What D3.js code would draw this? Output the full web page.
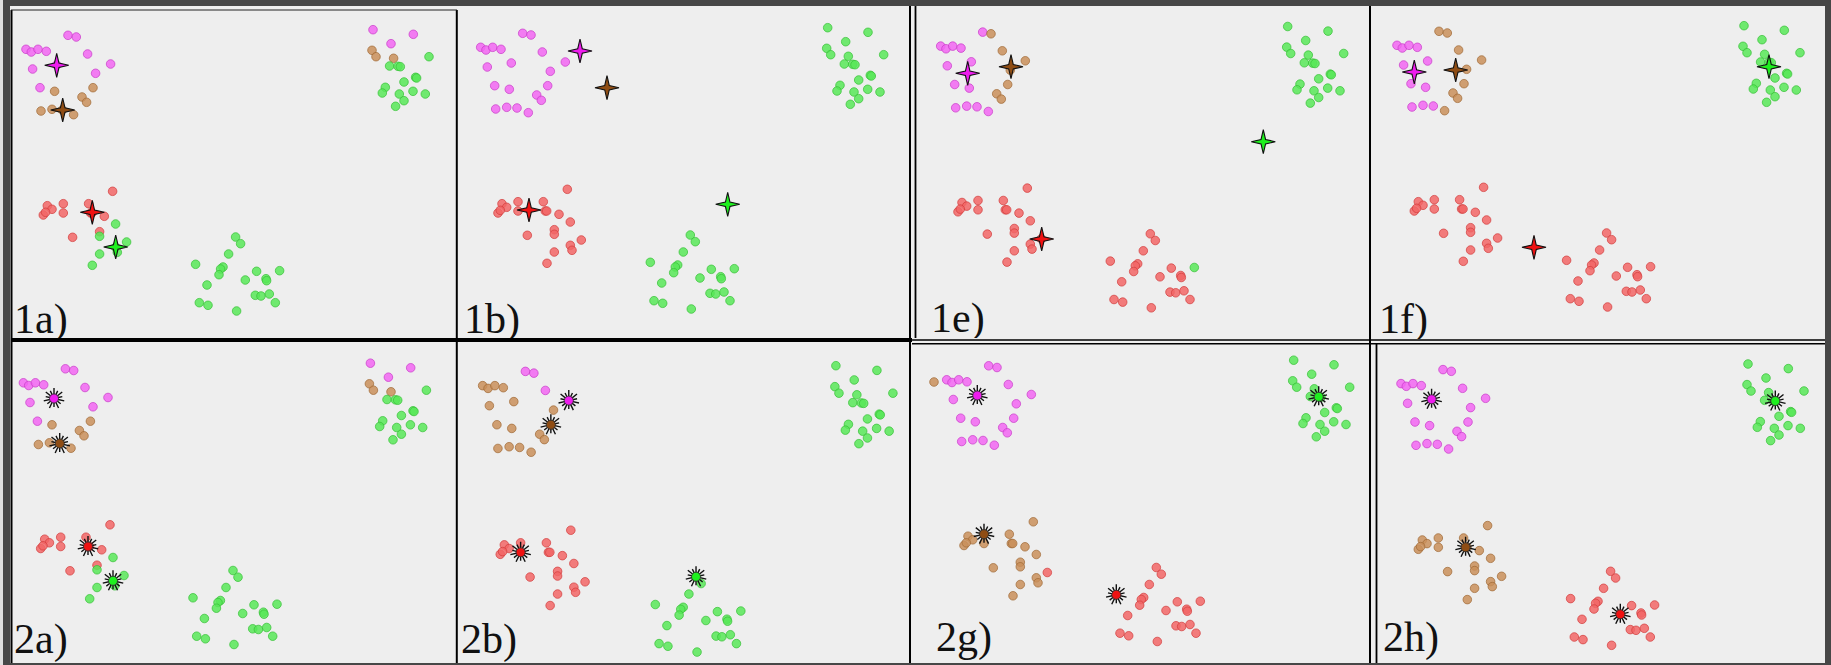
<!DOCTYPE html>
<html>
<head>
<meta charset="utf-8">
<script src="https://cdn.jsdelivr.net/npm/d3@7"></script>
<style>
  html, body { margin: 0; padding: 0; background: #e2e2e2; overflow: hidden; }
  svg { display: block; }
</style>
</head>
<body>
<svg id="chart" width="1831" height="665"></svg>
<script>
// ---- Data: the same 80-point set, four groups, in plot units ----
const clusterTopLeft = [
  [30.7, 47.3], [36.0, 50.0], [42.7, 47.3], [51.0, 49.3], [72.7, 33.3],
  [81.0, 35.0], [92.3, 52.0], [61.3, 63.0], [37.3, 67.0], [115.3, 62.0],
  [100.3, 71.3], [44.7, 85.7], [59.3, 89.3], [97.7, 85.7], [86.7, 95.0],
  [91.3, 100.3], [45.7, 109.0], [56.7, 107.3], [67.0, 108.0], [78.3, 112.7]
];
const clusterTopRight = [
  [377.7, 27.7], [418.0, 32.3], [395.7, 41.7], [376.7, 48.3], [380.7, 54.7],
  [398.3, 56.3], [433.7, 54.7], [394.3, 64.0], [402.7, 64.3], [405.0, 64.7],
  [420.3, 75.3], [421.3, 76.0], [408.7, 80.0], [390.0, 85.3], [387.0, 91.0],
  [404.0, 92.0], [417.7, 89.3], [430.0, 92.0], [408.7, 98.7], [400.3, 104.3]
];
const clusterBottomLeft = [
  [117.3, 189.3], [52.0, 203.7], [56.7, 207.3], [48.0, 213.0], [50.3, 210.3],
  [68.0, 201.7], [68.0, 211.0], [93.3, 201.7], [95.3, 211.0], [96.7, 211.0],
  [109.0, 214.3], [120.3, 222.0], [77.3, 235.3], [104.3, 229.7], [104.3, 234.3],
  [131.3, 240.0], [120.3, 245.3], [122.0, 250.3], [104.3, 252.0], [97.0, 263.3]
];
const clusterBottomCenter = [
  [240.3, 235.0], [245.3, 241.7], [233.3, 252.0], [200.3, 262.3], [227.7, 265.0],
  [225.3, 267.0], [223.7, 272.7], [211.7, 283.0], [250.0, 278.0], [261.3, 269.3],
  [284.3, 268.7], [270.7, 276.7], [271.3, 278.7], [260.0, 293.3], [265.7, 294.0],
  [274.0, 292.0], [280.0, 300.7], [204.0, 300.7], [212.7, 303.3], [241.3, 309.0]
];
const allPoints = [...clusterTopLeft, ...clusterTopRight, ...clusterBottomLeft, ...clusterBottomCenter];

// Panel titles
const panelLabels = ["1a)", "1b)", "1e)", "1f)", "2a)", "2b)", "2g)", "2h)"];

// Cluster membership of each point per panel (m magenta, b brown, g green, r red),
// groups in the order top-left | top-right | bottom-left | bottom-center
const panelAssignments = [
  "mmmmmmmmmmmmbbbbbbbb mmmbbbgggggggggggggg rrrrrrrrrrrgrrgggggg gggggggggggggggggggg",
  "mmmmmmmmmmmmmmmmmmmm gggggggggggggggggggg rrrrrrrrrrrrrrrrrrrr gggggggggggggggggggg",
  "mmmmmbbmmbbmmbbbmmmm gggggggggggggggggggg rrrrrrrrrrrrrrrrrrrr rrrrrrrrrrgrrrrrrrrr",
  "mmmmbbbmmbbmmbbbmmmb gggggggggggggggggggg rrrrrrrrrrrrrrrrrrrr rrrrrrrrrrrrrrrrrrrr",
  "mmmmmmmmmmmmbbbbbbbb mmmbbbgggggggggggggg rrrrrrrrrrrgrrgggggg gggggggggggggggggggg",
  "bbbbmmmbbmbbbbbbbbbb gggggggggggggggggggg rrrrrrrrrrrrrrrrrrrr gggggggggggggggggggg",
  "mmmmmmmmmmmmmmmmmmmm gggggggggggggggggggg bbbbbbbbbbbbbbbrbbbb rrrrrrrrrrrrrrrrrrrr",
  "mmmmmmmmmmmmmmmmmmmm gggggggggggggggggggg bbbbbbbbbbbbbbbbbbbb rrrrrrrrrrrrrrrrrrrr"
];

// One further point present only in panel 2g
const extraPoints2g = [["b", 18.0, 49.5]];

// Cluster centres per panel: [cluster, x, y]
const centres1a = [["m", 61.4, 63.3], ["b", 67.4, 108.0], ["r", 97.0, 210.3], ["g", 120.4, 245.0]];
const centres1b = [["m", 130.0, 51.0], ["b", 157.0, 87.7], ["r", 79.0, 210.0], ["g", 277.7, 204.3]];
const centres1e = [["m", 57.7, 74.5], ["b", 101.0, 67.9], ["r", 131.7, 240.2], ["g", 353.3, 142.9]];
const centres1f = [["m", 48.0, 74.0], ["b", 89.4, 72.0], ["r", 167.7, 249.3], ["g", 402.7, 68.7]];
const centres2a = [["m", 61.3, 63.0], ["b", 67.0, 108.0], ["r", 95.3, 211.0], ["g", 120.3, 245.3]];
const centres2b = [["m", 115.3, 62.0], ["b", 97.7, 85.7], ["r", 68.0, 211.0], ["g", 240.3, 235.0]];
const centres2g = [["m", 61.3, 63.0], ["b", 68.0, 201.7], ["r", 200.3, 262.3], ["g", 402.7, 64.3]];
const centres2h = [["m", 61.3, 63.0], ["b", 95.3, 211.0], ["r", 250.0, 278.0], ["g", 405.0, 64.7]];
const panelCentres = [centres1a, centres1b, centres1e, centres1f, centres2a, centres2b, centres2g, centres2h];

// ---- Layout of the eight screenshots ----
// clip box, where plot origin lands, its scale, label anchor, and centre marker style
const panelLayout = [
  { x0: 12,   y0: 10,  x1: 456,  y1: 338, ox: -4.7,   oy: 2,     s: 1,     lx: 14,   ly: 333, marker: "star" },
  { x0: 458,  y0: 7,   x1: 909,  y1: 338, ox: 450,    oy: 0,     s: 1,     lx: 464,  ly: 333, marker: "star" },
  { x0: 916,  y0: 7,   x1: 1369, y1: 338, ox: 910,    oy: -1.2,  s: 1,     lx: 931,  ly: 332, marker: "star" },
  { x0: 1371, y0: 7,   x1: 1825, y1: 339, ox: 1366.3, oy: -2,    s: 1,     lx: 1379, ly: 333, marker: "star" },
  { x0: 12,   y0: 342, x1: 456,  y1: 663, ox: -7.3,   oy: 335.5, s: 1,     lx: 14,   ly: 653, marker: "burst" },
  { x0: 458,  y0: 342, x1: 910,  y1: 663, ox: 451.4,  oy: 337.5, s: 1.018, lx: 461,  ly: 653, marker: "burst" },
  { x0: 911,  y0: 345, x1: 1369, y1: 663, ox: 916,    oy: 332.5, s: 1,     lx: 936,  ly: 651, marker: "burst" },
  { x0: 1377, y0: 345, x1: 1825, y1: 663, ox: 1370.3, oy: 336.3, s: 1,     lx: 1383, ly: 651, marker: "burst" }
];

const pointFill   = { m: "#f266f2", b: "#c98f5b", g: "#58e858", r: "#f26666" };
const pointStroke = { m: "#c83cc8", b: "#a06a36", g: "#36c036", r: "#d23c3c" };
const centreFill  = { m: "#ee1cee", b: "#8f4d14", g: "#1ef01e", r: "#f01212" };
const labelFont = "'Liberation Serif', Tinos, 'Times New Roman', Times, 'DejaVu Serif', serif";

const svg = d3.select("#chart");
const defs = svg.append("defs");

// light surround and the grey panel faces
svg.append("rect").attr("width", 1831).attr("height", 665).attr("fill", "#e4e4e4");
svg.append("rect").attr("x", 10).attr("y", 6).attr("width", 1815).attr("height", 657).attr("fill", "#eeeeee");

// four-pointed star used for the k-means style centres
const fourStar = (() => {
  const R = 12, r = 3.2;
  const pts = d3.range(8).map(k => [k * Math.PI / 4, k % 2 === 0 ? R : r]);
  return d3.lineRadial().curve(d3.curveLinearClosed)(pts);
})();

// spiky burst used for the medoid centres
const burstPath = (() => {
  const p = d3.path();
  const n = 14;
  for (let k = 0; k < n; k++) {
    const a = k * 2 * Math.PI / n;
    const R = k % 2 === 0 ? 10.5 : 8.5;
    p.moveTo(2 * Math.sin(a), -2 * Math.cos(a));
    p.lineTo(R * Math.sin(a), -R * Math.cos(a));
  }
  return p.toString();
})();

panelLayout.forEach((L, i) => {
  const clipId = "clip" + i;
  defs.append("clipPath").attr("id", clipId)
    .append("rect").attr("x", L.x0).attr("y", L.y0)
    .attr("width", L.x1 - L.x0).attr("height", L.y1 - L.y0);

  const x = d3.scaleLinear().domain([0, 450]).range([L.ox, L.ox + 450 * L.s]);
  const y = d3.scaleLinear().domain([0, 330]).range([L.oy, L.oy + 330 * L.s]);

  const g = svg.append("g").attr("clip-path", `url(#${clipId})`);

  g.append("text")
    .attr("x", L.lx).attr("y", L.ly)
    .style("font-family", labelFont)
    .style("font-size", "42px")
    .style("font-weight", "normal")
    .attr("fill", "#111")
    .text(panelLabels[i]);

  const labels = panelAssignments[i].replace(/\s+/g, "");
  let pts = allPoints.map((p, j) => ({ c: labels[j], x: p[0], y: p[1] }));
  if (i === 6) pts = pts.concat(extraPoints2g.map(e => ({ c: e[0], x: e[1], y: e[2] })));

  g.selectAll("circle.pt").data(pts).join("circle")
    .attr("class", "pt")
    .attr("cx", d => x(d.x)).attr("cy", d => y(d.y))
    .attr("r", 4.3)
    .attr("fill", d => pointFill[d.c]).attr("fill-opacity", 0.85)
    .attr("stroke", d => pointStroke[d.c]).attr("stroke-opacity", 0.8)
    .attr("stroke-width", 0.9);

  const centres = panelCentres[i].map(c => ({ c: c[0], x: c[1], y: c[2] }));
  const cg = g.selectAll("g.centre").data(centres).join("g")
    .attr("class", "centre")
    .attr("transform", d => `translate(${x(d.x)},${y(d.y)})`);

  if (L.marker === "star") {
    cg.append("path").attr("d", fourStar)
      .attr("fill", d => centreFill[d.c])
      .attr("stroke", "#111").attr("stroke-width", 1.1)
      .attr("stroke-linejoin", "miter");
  } else {
    cg.append("path").attr("d", burstPath)
      .attr("fill", "none").attr("stroke", "#111").attr("stroke-width", 1.4);
    cg.append("circle").attr("r", 4.5)
      .attr("fill", d => centreFill[d.c])
      .attr("stroke", "#333").attr("stroke-width", 0.8);
  }
});

// ---- Panel borders and the outer frame ----
const line = (x1, y1, x2, y2, w, c) => svg.append("line")
  .attr("x1", x1).attr("y1", y1).attr("x2", x2).attr("y2", y2)
  .attr("stroke", c || "#000").attr("stroke-width", w);

line(11.5, 10, 11.5, 663, 2);          // left edge of 1a / 2a
line(456.8, 10, 456.8, 663, 2);        // 1a|1b and 2a|2b
line(910, 6, 910, 663, 2);             // 1b|1e and 2b|2g
line(915.5, 6, 915.5, 338, 1.8);       // second rule before 1e
line(1370, 6, 1370, 663, 2);           // 1e|1f and 2g|2h
line(1376.5, 344, 1376.5, 663, 1.8);   // left rule of 2h
line(11, 10, 457, 10, 1.2, "#222");    // top rule of 1a
line(11, 340, 912, 340, 4);            // heavy rule between the rows (left half)
line(912, 340, 1825, 340, 1.6);        // double rule between the rows (right half)
line(912, 343.8, 1825, 343.8, 1.6);

// dark outer frame
svg.append("rect").attr("x", 0).attr("y", 0).attr("width", 1831).attr("height", 6).attr("fill", "#474747");
svg.append("rect").attr("x", 3).attr("y", 0).attr("width", 7).attr("height", 665).attr("fill", "#474747");
svg.append("rect").attr("x", 1825).attr("y", 0).attr("width", 6).attr("height", 665).attr("fill", "#474747");
svg.append("rect").attr("x", 0).attr("y", 663).attr("width", 1831).attr("height", 2).attr("fill", "#474747");
svg.append("rect").attr("x", 0).attr("y", 0).attr("width", 3).attr("height", 665).attr("fill", "#dedede");
</script>
</body>
</html>
